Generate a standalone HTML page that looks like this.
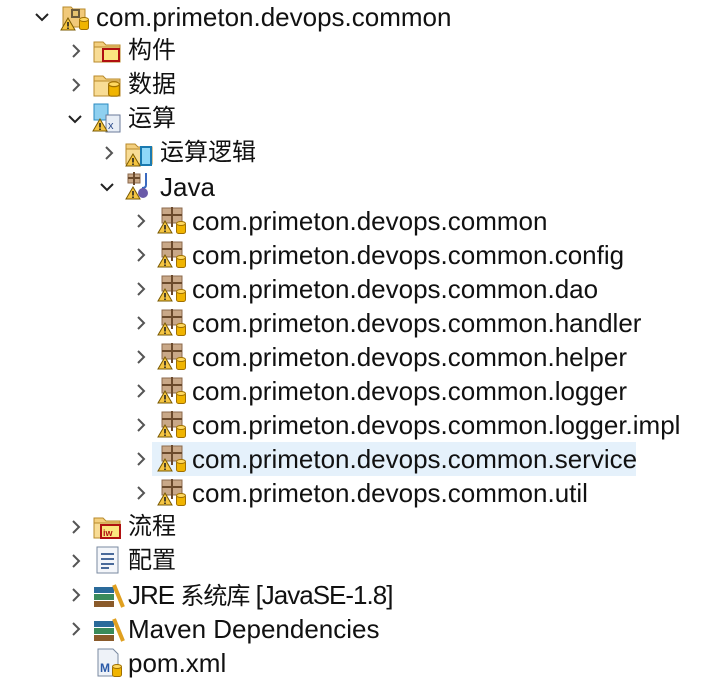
<!DOCTYPE html>
<html><head><meta charset="utf-8"><style>
body{margin:0;width:701px;height:681px;background:#fff;overflow:hidden;position:relative;font-family:"Liberation Sans","Noto Sans CJK SC",sans-serif;color:#111}
.r{position:absolute;height:34px;line-height:34px;font-size:26px;white-space:nowrap}
.cj{font-size:24px}
.hl{position:absolute;left:152px;top:442px;width:484px;height:34px;background:#e5f1fb}
svg.i{position:absolute}
</style></head><body>
<div class="hl"></div>
<svg width="0" height="0" style="position:absolute">
<defs>
<symbol id="chR" viewBox="0 0 12 16"><path d="M3 2 L9 8 L3 14" fill="none" stroke="#555" stroke-width="2"/></symbol>
<symbol id="chD" viewBox="0 0 16 12"><path d="M2 3 L8 9 L14 3" fill="none" stroke="#222" stroke-width="2"/></symbol>
<symbol id="warn" viewBox="0 0 16 14"><path d="M8 1 L15 13 L1 13 Z" fill="#f5c542" stroke="#7a5a00" stroke-width="1"/><rect x="7.2" y="5" width="1.6" height="4.5" fill="#222"/><rect x="7.2" y="10.5" width="1.6" height="1.5" fill="#222"/></symbol>
<symbol id="cyl" viewBox="0 0 10 13"><rect x="0.5" y="2" width="9" height="10.5" rx="2" fill="#f0b400" stroke="#a07000"/><ellipse cx="5" cy="2.5" rx="4.5" ry="2" fill="#ffd860" stroke="#a07000"/></symbol>
<symbol id="pkg" viewBox="0 0 30 28"><rect x="5" y="1" width="20" height="15" fill="#c9a888" stroke="#8c6a4c"/><path d="M15 0 V20 M5 8 H25" stroke="#6b4a2c" stroke-width="2"/><use href="#warn" x="0" y="13" width="16" height="14"/><use href="#cyl" x="19" y="14" width="10" height="13"/></symbol>
<symbol id="fold" viewBox="0 0 30 28"><path d="M1 5 h9 l3 3 h14 v17 h-26z" fill="#f3cf7e" stroke="#b88a2a"/><rect x="1" y="10" width="26" height="15" fill="#f8dc95" stroke="#b88a2a"/></symbol>
</defs></svg>

<svg class="i" style="left:34px;top:11px" width="16" height="12"><use href="#chD"/></svg>
<svg class="i" style="left:60px;top:3px" width="30" height="28" viewBox="0 0 30 28"><path d="M3 4 h8 l2 2 h12 v18 h-22z" fill="#f1c97a" stroke="#b88a2a"/><rect x="11" y="6" width="9" height="9" fill="#6b5a3a"/><rect x="13" y="8" width="5" height="5" fill="#e5c270"/><use href="#warn" x="0" y="14" width="16" height="14"/><use href="#cyl" x="19" y="14" width="10" height="13"/></svg>
<div class="r" style="left:96px;top:0">com.primeton.devops.common</div>
<svg class="i" style="left:70px;top:43px" width="12" height="16"><use href="#chR"/></svg>
<svg class="i" style="left:93px;top:37px" width="30" height="28" viewBox="0 0 30 28"><use href="#fold" width="30" height="28"/><rect x="10" y="12" width="16" height="12" fill="#fbe680" stroke="#b01010" stroke-width="2"/></svg>
<div class="r cj" style="left:128px;top:34px">构件</div>
<svg class="i" style="left:70px;top:77px" width="12" height="16"><use href="#chR"/></svg>
<svg class="i" style="left:93px;top:71px" width="30" height="28" viewBox="0 0 30 28"><use href="#fold" width="30" height="28"/><use href="#cyl" x="15" y="10" width="12" height="16"/></svg>
<div class="r cj" style="left:128px;top:68px">数据</div>
<svg class="i" style="left:67px;top:113px" width="16" height="12"><use href="#chD"/></svg>
<svg class="i" style="left:92px;top:103px" width="30" height="30" viewBox="0 0 30 30"><rect x="2" y="1" width="14" height="16" fill="#8fd0f0" stroke="#2a8ac0"/><rect x="14" y="12" width="14" height="17" fill="#e8eef6" stroke="#6a7a9a"/><text x="16" y="26" font-size="11" fill="#2a4a8a" font-family="Liberation Sans">x</text><use href="#warn" x="0" y="15" width="16" height="14"/></svg>
<div class="r cj" style="left:128px;top:102px">运算</div>
<svg class="i" style="left:103px;top:145px" width="12" height="16"><use href="#chR"/></svg>
<svg class="i" style="left:125px;top:139px" width="30" height="28" viewBox="0 0 30 28"><use href="#fold" width="30" height="28"/><rect x="16" y="8" width="10" height="18" fill="#8fd8f8" stroke="#1a7ab0" stroke-width="2"/><use href="#warn" x="0" y="14" width="16" height="14"/></svg>
<div class="r cj" style="left:160px;top:136px">运算逻辑</div>
<svg class="i" style="left:99px;top:181px" width="16" height="12"><use href="#chD"/></svg>
<svg class="i" style="left:125px;top:171px" width="30" height="30" viewBox="0 0 30 30"><rect x="3" y="3" width="12" height="9" fill="#c9a888" stroke="#8c6a4c"/><path d="M9 1 V14 M3 7 H15" stroke="#6b4a2c" stroke-width="2"/><path d="M21 2 V14 q0 3 -4 3" fill="none" stroke="#3a6ac0" stroke-width="2"/><circle cx="18" cy="22" r="5" fill="#6a5aa8"/><use href="#warn" x="0" y="15" width="16" height="14"/></svg>
<div class="r" style="left:160px;top:170px">Java</div>

<svg class="i" style="left:135px;top:213px" width="12" height="16"><use href="#chR"/></svg><svg class="i" style="left:157px;top:207px" width="30" height="28"><use href="#pkg"/></svg><div class="r" style="left:192px;top:204px">com.primeton.devops.common</div>
<svg class="i" style="left:135px;top:247px" width="12" height="16"><use href="#chR"/></svg><svg class="i" style="left:157px;top:241px" width="30" height="28"><use href="#pkg"/></svg><div class="r" style="left:192px;top:238px">com.primeton.devops.common.config</div>
<svg class="i" style="left:135px;top:281px" width="12" height="16"><use href="#chR"/></svg><svg class="i" style="left:157px;top:275px" width="30" height="28"><use href="#pkg"/></svg><div class="r" style="left:192px;top:272px">com.primeton.devops.common.dao</div>
<svg class="i" style="left:135px;top:315px" width="12" height="16"><use href="#chR"/></svg><svg class="i" style="left:157px;top:309px" width="30" height="28"><use href="#pkg"/></svg><div class="r" style="left:192px;top:306px">com.primeton.devops.common.handler</div>
<svg class="i" style="left:135px;top:349px" width="12" height="16"><use href="#chR"/></svg><svg class="i" style="left:157px;top:343px" width="30" height="28"><use href="#pkg"/></svg><div class="r" style="left:192px;top:340px">com.primeton.devops.common.helper</div>
<svg class="i" style="left:135px;top:383px" width="12" height="16"><use href="#chR"/></svg><svg class="i" style="left:157px;top:377px" width="30" height="28"><use href="#pkg"/></svg><div class="r" style="left:192px;top:374px">com.primeton.devops.common.logger</div>
<svg class="i" style="left:135px;top:417px" width="12" height="16"><use href="#chR"/></svg><svg class="i" style="left:157px;top:411px" width="30" height="28"><use href="#pkg"/></svg><div class="r" style="left:192px;top:408px">com.primeton.devops.common.logger.impl</div>
<svg class="i" style="left:135px;top:451px" width="12" height="16"><use href="#chR"/></svg><svg class="i" style="left:157px;top:445px" width="30" height="28"><use href="#pkg"/></svg><div class="r" style="left:192px;top:442px">com.primeton.devops.common.service</div>
<svg class="i" style="left:135px;top:485px" width="12" height="16"><use href="#chR"/></svg><svg class="i" style="left:157px;top:479px" width="30" height="28"><use href="#pkg"/></svg><div class="r" style="left:192px;top:476px">com.primeton.devops.common.util</div>

<svg class="i" style="left:70px;top:519px" width="12" height="16"><use href="#chR"/></svg>
<svg class="i" style="left:93px;top:513px" width="30" height="28" viewBox="0 0 30 28"><use href="#fold" width="30" height="28"/><rect x="8" y="12" width="19" height="13" fill="#fbe680" stroke="#b01010" stroke-width="2"/><text x="10" y="23" font-size="9" fill="#b01010" font-family="Liberation Sans" font-weight="bold">iw</text></svg>
<div class="r cj" style="left:128px;top:510px">流程</div>
<svg class="i" style="left:70px;top:553px" width="12" height="16"><use href="#chR"/></svg>
<svg class="i" style="left:95px;top:545px" width="26" height="30" viewBox="0 0 26 30"><rect x="2" y="2" width="21" height="26" fill="#f4f6fa" stroke="#7a8aa0"/><path d="M6 9 H19 M6 14 H19 M6 19 H19 M6 23 H14" stroke="#4a6a9a" stroke-width="2"/></svg>
<div class="r cj" style="left:128px;top:544px">配置</div>
<svg class="i" style="left:70px;top:587px" width="12" height="16"><use href="#chR"/></svg>
<svg class="i" style="left:93px;top:583px" width="32" height="26" viewBox="0 0 32 26"><rect x="1" y="4" width="20" height="6" fill="#2a6a9a"/><rect x="1" y="11" width="20" height="6" fill="#3a8a5a"/><rect x="1" y="18" width="20" height="6" fill="#8a5a2a"/><path d="M21 2 L30 24" stroke="#e0a020" stroke-width="4"/></svg>
<div class="r" style="left:128px;top:578px;letter-spacing:-1px">JRE <span class="cj">系统库</span> [JavaSE-1.8]</div>
<svg class="i" style="left:70px;top:621px" width="12" height="16"><use href="#chR"/></svg>
<svg class="i" style="left:93px;top:617px" width="32" height="26" viewBox="0 0 32 26"><rect x="1" y="4" width="20" height="6" fill="#2a6a9a"/><rect x="1" y="11" width="20" height="6" fill="#3a8a5a"/><rect x="1" y="18" width="20" height="6" fill="#8a5a2a"/><path d="M21 2 L30 24" stroke="#e0a020" stroke-width="4"/></svg>
<div class="r" style="left:128px;top:612px">Maven Dependencies</div>
<svg class="i" style="left:96px;top:648px" width="28" height="30" viewBox="0 0 28 30"><path d="M2 1 h15 l5 5 v22 h-20z" fill="#eef2f8" stroke="#7a8aa0"/><text x="4" y="24" font-size="12" fill="#2a5aa8" font-weight="bold" font-family="Liberation Sans">M</text><use href="#cyl" x="16" y="16" width="10" height="13"/></svg>
<div class="r" style="left:128px;top:646px">pom.xml</div>
</body></html>
